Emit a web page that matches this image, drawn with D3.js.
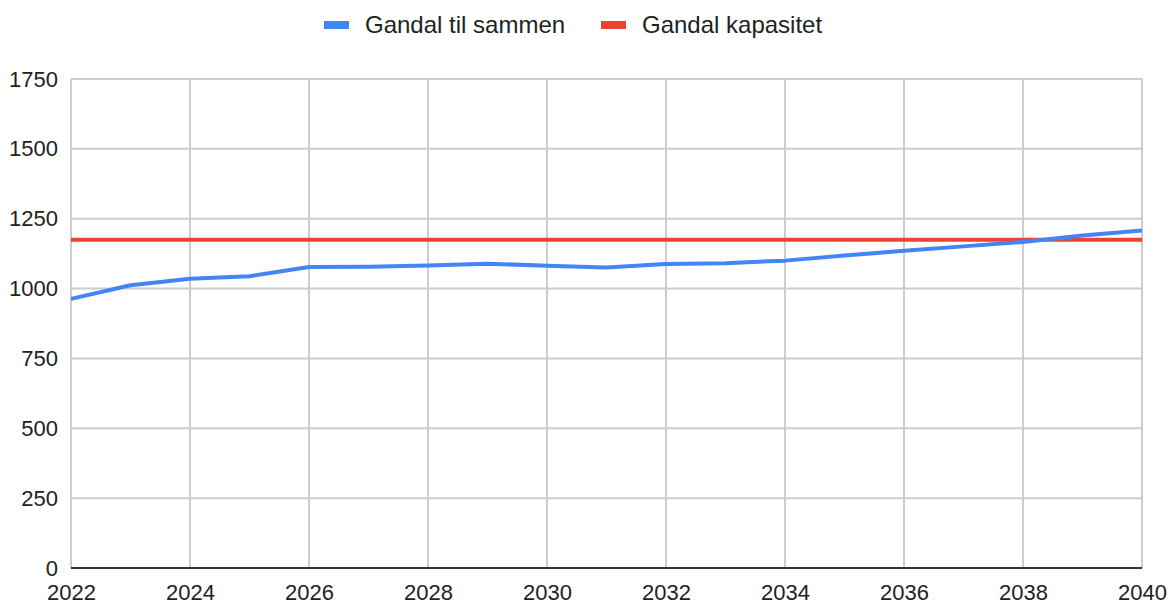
<!DOCTYPE html>
<html>
<head>
<meta charset="utf-8">
<script src="https://cdn.jsdelivr.net/npm/d3@7"></script>
<style>
  body { margin: 0; background: #fff; }
  text { font-family: "Liberation Sans", Arial, sans-serif; fill: #222; }
</style>
</head>
<body>
<div id="chart"></div>
<script>
var svgWidth = 1170;
var svgHeight = 605;

var margin = { top: 79, right: 28, bottom: 37, left: 71 };
var width = svgWidth - margin.left - margin.right;
var height = svgHeight - margin.top - margin.bottom;

// data
var years = [2022, 2023, 2024, 2025, 2026, 2027, 2028, 2029, 2030, 2031,
             2032, 2033, 2034, 2035, 2036, 2037, 2038, 2039, 2040];
var totalValues = [963, 1012, 1035, 1044, 1077, 1078, 1083, 1089, 1082, 1075,
                   1088, 1091, 1100, 1118, 1135, 1151, 1167, 1190, 1208];
var capacityValues = years.map(function() { return 1175; });
var seriesNames = ["Gandal til sammen", "Gandal kapasitet"];
var seriesColors = ["#4285F4", "#EA4335"];
var yTicks = [0, 250, 500, 750, 1000, 1250, 1500, 1750];
var xTicks = [2022, 2024, 2026, 2028, 2030, 2032, 2034, 2036, 2038, 2040];

var svg = d3.select("#chart")
  .append("svg")
  .attr("width", svgWidth)
  .attr("height", svgHeight);

var chartGroup = svg.append("g")
  .attr("transform", `translate(${margin.left}, ${margin.top})`);

var xScale = d3.scaleLinear().domain([2022, 2040]).range([0, width]);
var yScale = d3.scaleLinear().domain([0, 1750]).range([height, 0]);

// gridlines
chartGroup.selectAll(".hgrid")
  .data(yTicks)
  .enter()
  .append("line")
  .attr("x1", 0)
  .attr("x2", width)
  .attr("y1", d => yScale(d))
  .attr("y2", d => yScale(d))
  .attr("stroke", "#cccccc")
  .attr("stroke-width", 2);

chartGroup.selectAll(".vgrid")
  .data(xTicks)
  .enter()
  .append("line")
  .attr("x1", d => xScale(d))
  .attr("x2", d => xScale(d))
  .attr("y1", 0)
  .attr("y2", height)
  .attr("stroke", "#cccccc")
  .attr("stroke-width", 2);

// baseline
chartGroup.append("line")
  .attr("x1", 0)
  .attr("x2", width)
  .attr("y1", yScale(0))
  .attr("y2", yScale(0))
  .attr("stroke", "#333333")
  .attr("stroke-width", 2);

// axes (labels only)
var leftAxis = d3.axisLeft(yScale).tickValues(yTicks).tickFormat(d3.format("d")).tickSize(0).tickPadding(13);
var bottomAxis = d3.axisBottom(xScale).tickValues(xTicks).tickFormat(d3.format("d")).tickSize(0).tickPadding(16);

var yAxisG = chartGroup.append("g").call(leftAxis);
var xAxisG = chartGroup.append("g").attr("transform", `translate(0, ${height})`).call(bottomAxis);

[yAxisG, xAxisG].forEach(function(g) {
  g.select(".domain").remove();
  g.selectAll("text")
    .attr("font-size", "22px")
    .attr("font-family", "Liberation Sans, Arial, sans-serif")
    .attr("fill", "#222");
});

// lines
var line = d3.line()
  .x((d, i) => xScale(years[i]))
  .y(d => yScale(d));

chartGroup.append("path")
  .datum(capacityValues)
  .attr("d", line)
  .attr("fill", "none")
  .attr("stroke", seriesColors[1])
  .attr("stroke-width", 4);

chartGroup.append("path")
  .datum(totalValues)
  .attr("d", line)
  .attr("fill", "none")
  .attr("stroke", seriesColors[0])
  .attr("stroke-width", 4)
  .attr("stroke-linejoin", "round");

// legend
var legendItems = [
  { name: seriesNames[0], color: seriesColors[0], x: 324 },
  { name: seriesNames[1], color: seriesColors[1], x: 601 }
];

var legend = svg.selectAll(".legend")
  .data(legendItems)
  .enter()
  .append("g")
  .attr("transform", d => `translate(${d.x}, 25)`);

legend.append("rect")
  .attr("x", 0)
  .attr("y", -4)
  .attr("width", 25)
  .attr("height", 8)
  .attr("fill", d => d.color);

legend.append("text")
  .attr("x", 41)
  .attr("y", 8)
  .attr("font-size", "24px")
  .text(d => d.name);
</script>
</body>
</html>
